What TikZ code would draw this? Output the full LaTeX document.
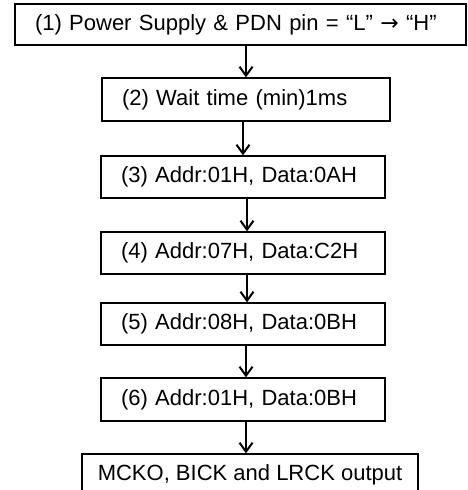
\documentclass[tikz,border=0pt]{standalone}
\usepackage{fontspec}
\setmainfont{Liberation Sans}
\newfontfamily\arrowfont{DejaVu Sans}
\usetikzlibrary{arrows.meta,positioning}
\tikzset{
  box/.style={draw=black,line width=1.2pt,fill=white,minimum height=42pt,
              inner xsep=20pt,inner ysep=0pt,align=left,text width=244pt,
              font=\fontsize{22}{25}\selectfont},
  endbox/.style={box,text width=,align=center,inner xsep=0pt,minimum width=336pt},
  flowarrow/.style={-{Straight Barb[length=9pt,width=13pt]},line width=2pt,black},
}

\begin{document}
\begin{tikzpicture}[x=1pt,y=-1pt]
  \useasboundingbox (0,0) rectangle (467,490);
  \clip (0,0) rectangle (467,490);
  \node[box,text width=411pt,minimum height=41pt] (b1) at (240.5,24.5)
    {(1) Power Supply \& PDN pin = “L” {\arrowfont →} “H”};
  \node[box,text width=248pt,minimum height=43pt] (b2) at (246,99.5)
    {(2) Wait time (min)1ms};
  \node[box] (b3) at (243,177){(3) Addr:01H, Data:0AH};
  \node[box] (b4) at (243,253){(4) Addr:07H, Data:C2H};
  \node[box] (b5) at (243,324){(5) Addr:08H, Data:0BH};
  \node[box,minimum height=43pt] (b6) at (243,399.5){(6) Addr:01H, Data:0BH};
  \node[endbox] (b7) at (250,475){MCKO, BICK and LRCK output};
  \draw[flowarrow] (b2.north |- b1.south)--(b2.north);
  \draw[flowarrow] (b3.north |- b2.south)--(b3.north);
  \draw[flowarrow] ([xshift=4pt]b4.north |- b3.south)--([xshift=4pt]b4.north);
  \draw[flowarrow] ([xshift=4pt]b5.north |- b4.south)--([xshift=4pt]b5.north);
  \draw[flowarrow] ([xshift=3pt]b6.north |- b5.south)--([xshift=3pt]b6.north);
  \draw[flowarrow] ([xshift=-4pt]b7.north |- b6.south)--([xshift=-4pt]b7.north);
\end{tikzpicture}
\end{document}
